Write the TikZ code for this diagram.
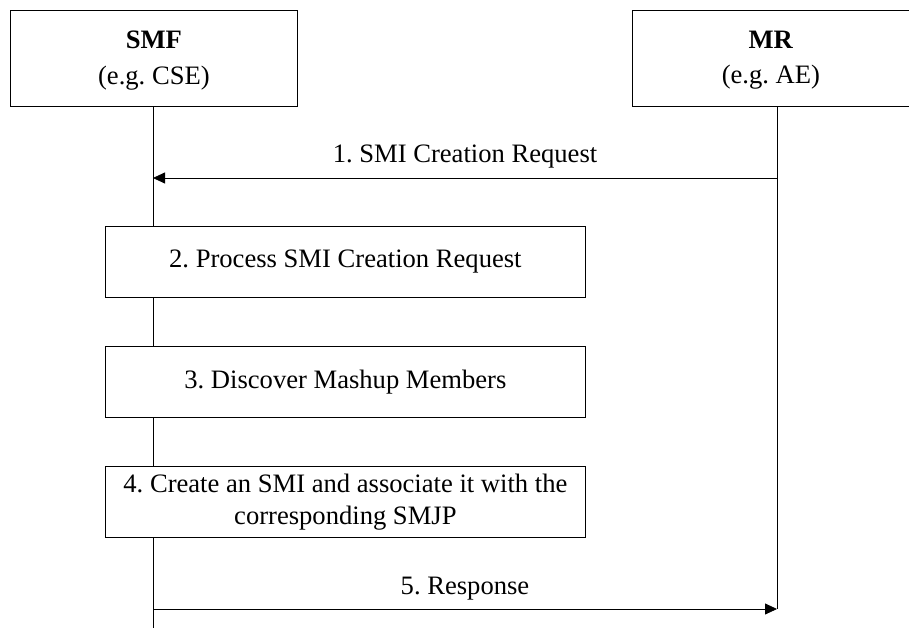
\documentclass[tikz,border=0pt]{standalone}
\usepackage{fontspec}
\setmainfont{Liberation Serif}
\usetikzlibrary{arrows.meta}
\begin{document}
\frenchspacing
\begin{tikzpicture}[x=1pt,y=-1pt,
  every node/.style={font=\fontsize{26.6}{31.5}\selectfont},
  entity/.style={draw,line width=0.8pt,minimum width=287pt,minimum height=96pt,anchor=north west,inner sep=0pt},
  entitytext/.style={align=center,inner sep=0pt,yshift=-2pt},
  procbox/.style={draw,line width=0.8pt,minimum width=480pt,minimum height=71pt,align=center,anchor=north west,inner sep=0pt},
  life/.style={line width=0.8pt},
  msg/.style={line width=0.8pt,-{Triangle[length=12pt,width=11pt]}},
  lbl/.style={inner sep=0pt,anchor=base,yshift=15pt}]
\useasboundingbox (0,0) rectangle (909,628);
\node[entity] (smf) at (10,10) {};
\node[entitytext] (smft) at (smf.center) {\textbf{SMF}\\[4pt](e.g. CSE)};
\node[entity,minimum width=277pt] (mr) at (632,10) {};
\node[entitytext] (mrt) at (mr.center) {\textbf{MR}\\[4pt](e.g. AE)};
\coordinate (smfend) at (153,628);
\coordinate (mrend) at (777,609);
\coordinate (a1s) at (777,178);
\coordinate (a1e) at (153,178);
\coordinate (a5s) at (153,609);
\coordinate (a5e) at (777,609);
\node[procbox] (p2) at (105,226) {2. Process SMI Creation Request};
\node[procbox] (p3) at (105,346) {3. Discover Mashup Members};
\node[procbox] (p4) at (105,466) {4. Create an SMI and associate it with the\\corresponding SMJP};
\draw[life] (smf.south -| smfend) -- (p2.north -| smfend);
\draw[life] (p2.south -| smfend) -- (p3.north -| smfend);
\draw[life] (p3.south -| smfend) -- (p4.north -| smfend);
\draw[life] (p4.south -| smfend) -- (smfend);
\draw[life] (mr.south -| mrend) -- (mrend);
\draw[msg] (a1s) -- (a1e) node[lbl,midway] (l1) {1. SMI Creation Request};
\draw[msg] (a5s) -- (a5e) node[lbl,midway] (l5) {5. Response};
\end{tikzpicture}
\end{document}
